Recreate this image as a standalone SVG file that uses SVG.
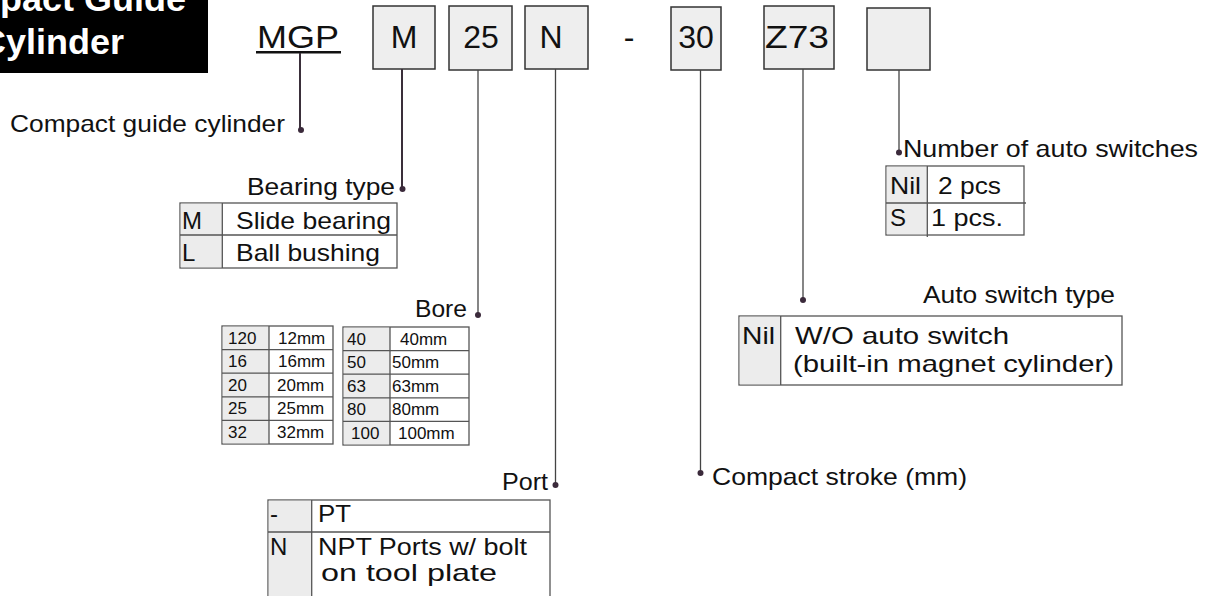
<svg xmlns="http://www.w3.org/2000/svg" width="1214" height="596" viewBox="0 0 1214 596">
<style>
.t{font-family:"Liberation Sans",Arial,Helvetica,sans-serif;fill:#111}
.big{font-size:32px}
.med{font-size:24px}
.sm{font-size:17px}
.title{font-family:"Liberation Sans",Arial,Helvetica,sans-serif;font-weight:bold;font-size:35px;fill:#fff}
.box{fill:#eeeeee;stroke:#333;stroke-width:1.5}
.tb{fill:#fff;stroke:#555;stroke-width:1.3}
.sh{fill:#ececec;stroke:none}
.gl{stroke:#555;stroke-width:1.3;fill:none}
.ln{stroke:#444;stroke-width:1.3;fill:none}
.lnd{stroke:#3a2f3a;stroke-width:2;fill:none}
.dot{fill:#3b2a3b}
</style>
<rect width="1214" height="596" fill="#fff"/>

<g id="title">
<rect x="0" y="0" width="208" height="73" fill="#000"/>
<text class="title" x="-80" y="11" textLength="266" lengthAdjust="spacingAndGlyphs">Compact Guide</text>
<text class="title" x="-20" y="54" textLength="144" lengthAdjust="spacingAndGlyphs">Cylinder</text>
</g>

<g id="code-mgp">
<text class="t big" x="257" y="48" textLength="82" lengthAdjust="spacingAndGlyphs">MGP</text>
<rect x="256" y="51" width="85" height="2.5" fill="#111"/>
</g>
<g id="code-m"><rect class="box" x="373" y="6" width="62" height="63"/><text class="t big" x="404" y="48" text-anchor="middle">M</text></g>
<g id="code-25"><rect class="box" x="449" y="6" width="63" height="64"/><text class="t big" x="481" y="48" text-anchor="middle">25</text></g>
<g id="code-n"><rect class="box" x="525" y="6" width="63" height="63"/><text class="t big" x="551" y="48" text-anchor="middle">N</text></g>
<g id="code-dash"><text class="t big" x="629" y="48" text-anchor="middle">-</text></g>
<g id="code-30"><rect class="box" x="671" y="7" width="50" height="63"/><text class="t big" x="696" y="48" text-anchor="middle">30</text></g>
<g id="code-z73"><rect class="box" x="764" y="6" width="70" height="63"/><text class="t big" x="765" y="48" textLength="64" lengthAdjust="spacingAndGlyphs">Z73</text></g>
<g id="code-empty"><rect class="box" x="867" y="8" width="63" height="62"/></g>

<g id="connectors">
<line class="lnd" x1="300" y1="53" x2="300" y2="130"/>
<circle class="dot" cx="301" cy="130" r="3"/>
<line class="lnd" x1="402" y1="69" x2="402" y2="189"/>
<circle class="dot" cx="402.5" cy="189" r="3"/>
<line class="ln" x1="478" y1="70" x2="478" y2="315"/>
<circle class="dot" cx="478" cy="315" r="3"/>
<line class="ln" x1="555.5" y1="69" x2="555.5" y2="485"/>
<circle class="dot" cx="555.5" cy="485" r="3"/>
<line class="ln" x1="700.5" y1="70" x2="700.5" y2="473"/>
<circle class="dot" cx="700.5" cy="473" r="3"/>
<line class="ln" x1="803" y1="69" x2="803" y2="300"/>
<circle class="dot" cx="803" cy="300" r="3"/>
<line class="ln" x1="899" y1="70" x2="899" y2="152"/>
<circle class="dot" cx="899" cy="152.5" r="3"/>
</g>

<g id="label-series">
<text class="t med" x="10" y="132" textLength="275" lengthAdjust="spacingAndGlyphs">Compact guide cylinder</text>
</g>

<g id="label-bearing">
<text class="t med" x="247" y="195" textLength="148" lengthAdjust="spacingAndGlyphs">Bearing type</text>
<rect class="tb" x="180" y="203" width="217" height="65"/>
<rect class="sh" x="180.7" y="203.7" width="41.6" height="63.6"/>
<line class="gl" x1="222.3" y1="203" x2="222.3" y2="268"/>
<line class="gl" x1="180" y1="235" x2="397" y2="235"/>
<text class="t med" x="182" y="229">M</text>
<text class="t med" x="236" y="229" textLength="155" lengthAdjust="spacingAndGlyphs">Slide bearing</text>
<text class="t med" x="182" y="261">L</text>
<text class="t med" x="236" y="261" textLength="144" lengthAdjust="spacingAndGlyphs">Ball bushing</text>
</g>

<g id="label-bore">
<text class="t med" x="415" y="317" textLength="52" lengthAdjust="spacingAndGlyphs">Bore</text>
<rect class="tb" x="222" y="326" width="111" height="118"/>
<rect class="sh" x="222.7" y="326.7" width="46.3" height="116.6"/>
<line class="gl" x1="269" y1="326" x2="269" y2="444"/>
<line class="gl" x1="222" y1="349.6" x2="333" y2="349.6"/>
<line class="gl" x1="222" y1="373.2" x2="333" y2="373.2"/>
<line class="gl" x1="222" y1="396.8" x2="333" y2="396.8"/>
<line class="gl" x1="222" y1="420.4" x2="333" y2="420.4"/>
<text class="t sm" x="228" y="344">120</text><text class="t sm" x="278" y="344">12mm</text>
<text class="t sm" x="228" y="367">16</text><text class="t sm" x="278" y="367">16mm</text>
<text class="t sm" x="228" y="391">20</text><text class="t sm" x="277" y="391">20mm</text>
<text class="t sm" x="228" y="414">25</text><text class="t sm" x="277" y="414">25mm</text>
<text class="t sm" x="228" y="438">32</text><text class="t sm" x="277" y="438">32mm</text>
<rect class="tb" x="343" y="327" width="126" height="118"/>
<rect class="sh" x="343.7" y="327.7" width="46.3" height="116.6"/>
<line class="gl" x1="390" y1="327" x2="390" y2="445"/>
<line class="gl" x1="343" y1="350.6" x2="469" y2="350.6"/>
<line class="gl" x1="343" y1="374.2" x2="469" y2="374.2"/>
<line class="gl" x1="343" y1="397.8" x2="469" y2="397.8"/>
<line class="gl" x1="343" y1="421.4" x2="469" y2="421.4"/>
<text class="t sm" x="347" y="345">40</text><text class="t sm" x="400" y="345">40mm</text>
<text class="t sm" x="347" y="368">50</text><text class="t sm" x="392" y="368">50mm</text>
<text class="t sm" x="347" y="392">63</text><text class="t sm" x="392" y="392">63mm</text>
<text class="t sm" x="347" y="415">80</text><text class="t sm" x="392" y="415">80mm</text>
<text class="t sm" x="351" y="439">100</text><text class="t sm" x="398" y="439">100mm</text>
</g>

<g id="label-port">
<text class="t med" x="502" y="490" textLength="46" lengthAdjust="spacingAndGlyphs">Port</text>
<rect class="tb" x="268" y="500" width="282" height="110"/>
<rect class="sh" x="268.7" y="500.7" width="43" height="100"/>
<line class="gl" x1="311.7" y1="500" x2="311.7" y2="600"/>
<line class="gl" x1="268" y1="532" x2="550" y2="532"/>
<text class="t med" x="270" y="522">-</text>
<text class="t med" x="318" y="522" textLength="33" lengthAdjust="spacingAndGlyphs">PT</text>
<text class="t med" x="270" y="555">N</text>
<text class="t med" x="318" y="555" textLength="209" lengthAdjust="spacingAndGlyphs">NPT Ports w/ bolt</text>
<text class="t med" x="321" y="581" textLength="176" lengthAdjust="spacingAndGlyphs">on tool plate</text>
</g>

<g id="label-stroke">
<text class="t med" x="712" y="485" textLength="255" lengthAdjust="spacingAndGlyphs">Compact stroke (mm)</text>
</g>

<g id="label-switch-type">
<text class="t med" x="923" y="303" textLength="192" lengthAdjust="spacingAndGlyphs">Auto switch type</text>
<rect class="tb" x="739" y="316" width="383" height="69"/>
<rect class="sh" x="739.7" y="316.7" width="41" height="67.6"/>
<line class="gl" x1="780.7" y1="316" x2="780.7" y2="385"/>
<text class="t med" x="742" y="344" textLength="33" lengthAdjust="spacingAndGlyphs">Nil</text>
<text class="t med" x="795" y="344" textLength="214" lengthAdjust="spacingAndGlyphs">W/O auto switch</text>
<text class="t med" x="793" y="372" textLength="321" lengthAdjust="spacingAndGlyphs">(built-in magnet cylinder)</text>
</g>

<g id="label-switch-count">
<text class="t med" x="903" y="157" textLength="295" lengthAdjust="spacingAndGlyphs">Number of auto switches</text>
<rect class="tb" x="886" y="166" width="138" height="69"/>
<rect class="sh" x="886.7" y="166.7" width="40.6" height="67.6"/>
<line class="gl" x1="927.3" y1="166" x2="927.3" y2="237"/>
<line class="gl" x1="886" y1="203" x2="1026" y2="203"/>
<text class="t med" x="890" y="194" textLength="31" lengthAdjust="spacingAndGlyphs">Nil</text>
<text class="t med" x="938" y="194" textLength="63" lengthAdjust="spacingAndGlyphs">2 pcs</text>
<text class="t med" x="890" y="226">S</text>
<text class="t med" x="931" y="226" textLength="72" lengthAdjust="spacingAndGlyphs">1 pcs.</text>
</g>
</svg>
